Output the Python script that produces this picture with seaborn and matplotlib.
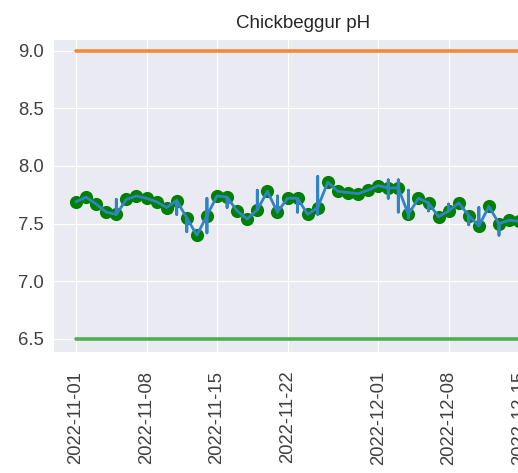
import pandas as pd
import numpy as np
import matplotlib
matplotlib.use("Agg")
import matplotlib.pyplot as plt
import seaborn as sns

# Daily pH readings, Chickbeggur, 2022-11-01 .. 2022-12-16
days = pd.date_range("2022-11-01", "2022-12-16", freq="D")
daily_ph = [7.69, 7.73, 7.67, 7.60, 7.58, 7.71, 7.74, 7.72, 7.69, 7.64,
            7.70, 7.55, 7.40, 7.57, 7.74, 7.73, 7.61, 7.54, 7.62, 7.78,
            7.60, 7.72, 7.72, 7.58, 7.64, 7.86, 7.78, 7.77, 7.76, 7.79,
            7.83, 7.81, 7.81, 7.58, 7.72, 7.68, 7.56, 7.61, 7.68, 7.57,
            7.48, 7.65, 7.50, 7.53, 7.52, 7.50]

# extra raw readings taken on some days (show up as vertical strokes)
extra_dates = ["2022-11-05", "2022-11-11", "2022-11-12", "2022-11-14", "2022-11-14",
               "2022-11-16", "2022-11-19", "2022-11-21", "2022-11-23", "2022-11-25",
               "2022-11-25", "2022-12-02", "2022-12-02", "2022-12-03", "2022-12-03",
               "2022-12-04", "2022-12-04", "2022-12-06", "2022-12-08", "2022-12-10",
               "2022-12-11", "2022-12-13"]
extra_ph = [7.71, 7.58, 7.43, 7.42, 7.72,
            7.64, 7.79, 7.74, 7.60, 7.91,
            7.58, 7.88, 7.72, 7.88, 7.60,
            7.55, 7.79, 7.61, 7.67, 7.49,
            7.64, 7.40]

upper_limit = 9.0
lower_limit = 6.5

# raw series in reading order: daily value, then extra readings, back to daily value
extras = pd.DataFrame({"date": pd.to_datetime(extra_dates), "ph": extra_ph})
rows = []
for d, v in zip(days, daily_ph):
    rows.append((d, v))
    more = extras.loc[extras["date"] == d, "ph"].tolist()
    if more:
        for m in more:
            rows.append((d, m))
        rows.append((d, v))
readings = pd.DataFrame(rows, columns=["date", "ph"])

sns.set_style("darkgrid")
plt.rcParams["font.family"] = ["Liberation Sans", "DejaVu Sans"]

fig = plt.figure(figsize=(5.18, 4.73), dpi=100)
ax = fig.add_axes([0.103, 0.2558, 0.9624, 0.6612])

sns.scatterplot(x=days, y=daily_ph, color="green", s=90, linewidth=0, zorder=2, ax=ax)
sns.lineplot(data=readings, x="date", y="ph", estimator=None, sort=False,
             color="#3183c4", lw=2.0, zorder=3, ax=ax)
sns.lineplot(x=days, y=[upper_limit] * len(days), color="#f5893a", lw=2.6, zorder=3, ax=ax)
sns.lineplot(x=days, y=[lower_limit] * len(days), color="#4fae4f", lw=2.6, zorder=3, ax=ax)

ax.set_ylim(6.387, 9.099)
ax.set_xlabel("")
ax.set_ylabel("")
ax.set_title("Chickbeggur pH", fontsize=13.5, pad=8)
ax.tick_params(axis="both", labelsize=13.3, colors=".25")
ax.tick_params(axis="x", pad=10)
plt.setp(ax.get_xticklabels(), rotation=90)

fig.savefig("out.png", dpi=100)
